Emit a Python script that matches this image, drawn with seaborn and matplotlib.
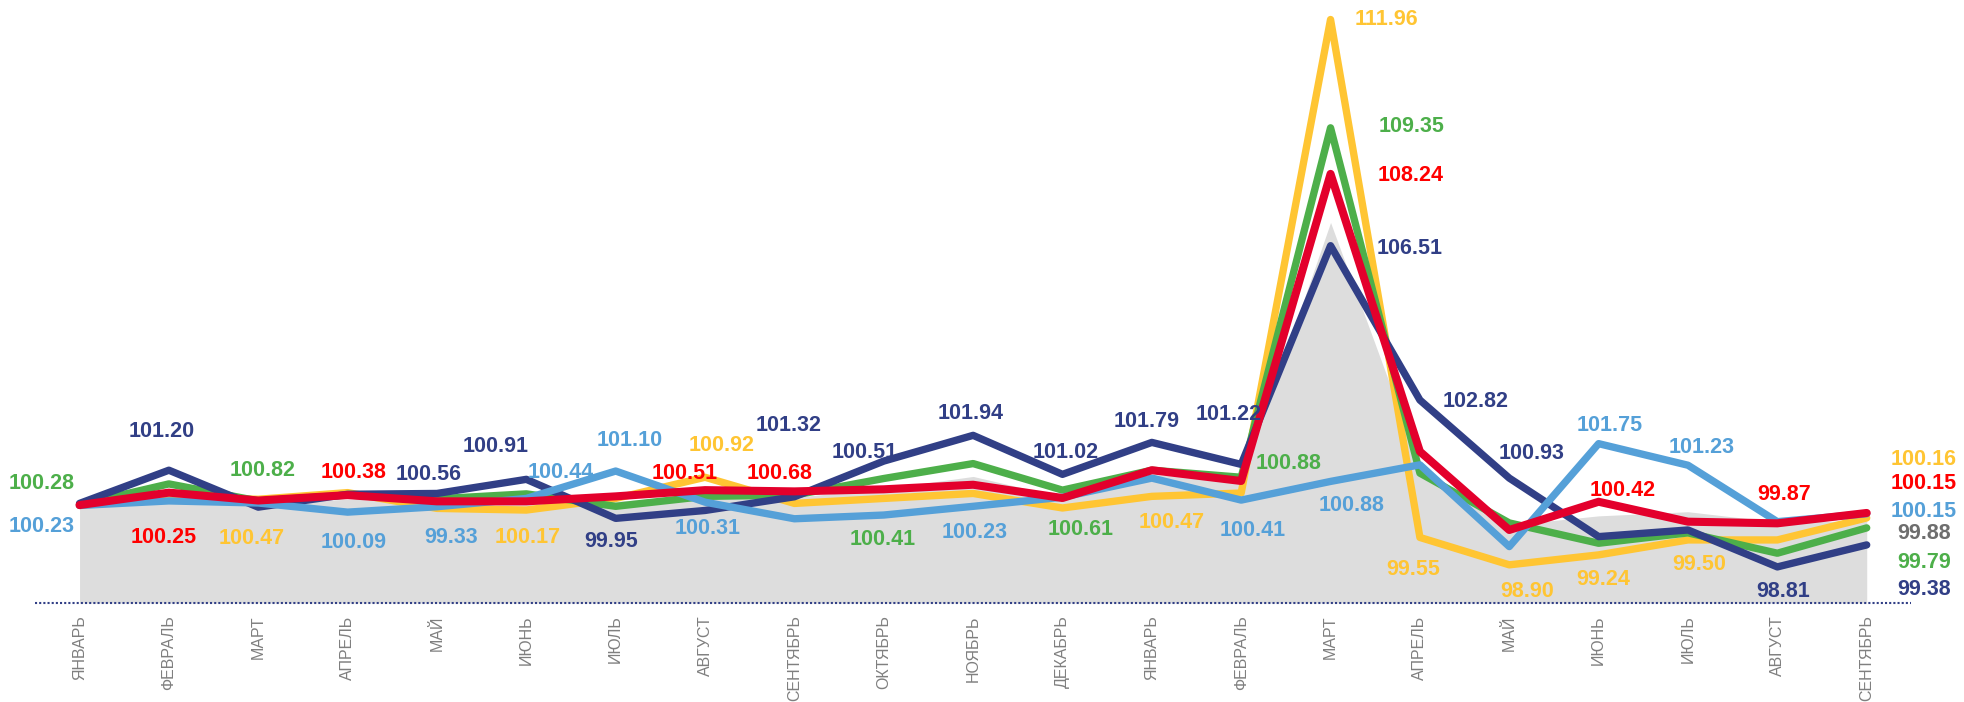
import pandas as pd
import matplotlib
matplotlib.use('Agg')
import matplotlib.pyplot as plt
import seaborn as sns

months = ['ЯНВАРЬ', 'ФЕВРАЛЬ', 'МАРТ', 'АПРЕЛЬ', 'МАЙ', 'ИЮНЬ', 'ИЮЛЬ', 'АВГУСТ',
          'СЕНТЯБРЬ', 'ОКТЯБРЬ', 'НОЯБРЬ', 'ДЕКАБРЬ', 'ЯНВАРЬ', 'ФЕВРАЛЬ', 'МАРТ',
          'АПРЕЛЬ', 'МАЙ', 'ИЮНЬ', 'ИЮЛЬ', 'АВГУСТ', 'СЕНТЯБРЬ']

# values
yellow = [100.25, 100.45, 100.40, 100.56, 100.18, 100.14, 100.42, 100.93, 100.30, 100.42, 100.54,
          100.19, 100.47, 100.55, 111.96, 99.48, 98.82, 99.06, 99.42, 99.42, 99.95]
green = [100.27, 100.77, 100.36, 100.50, 100.41, 100.53, 100.23, 100.47, 100.50, 100.90, 101.26,
         100.62, 101.10, 100.93, 109.35, 101.03, 99.83, 99.34, 99.59, 99.10, 99.71]
red = [100.26, 100.56, 100.37, 100.50, 100.35, 100.35, 100.47, 100.62, 100.59, 100.64, 100.75,
       100.43, 101.10, 100.84, 108.24, 101.55, 99.66, 100.34, 99.86, 99.82, 100.07]
navy = [100.30, 101.10, 100.21, 100.52, 100.54, 100.88, 99.94, 100.13, 100.46, 101.32, 101.94,
        101.00, 101.77, 101.24, 106.51, 102.79, 100.91, 99.50, 99.66, 98.77, 99.30]
blue = [100.25, 100.36, 100.31, 100.09, 100.22, 100.42, 101.08, 100.33, 99.93, 100.02, 100.23,
        100.45, 100.91, 100.38, 100.83, 101.23, 99.26, 101.74, 101.22, 99.86, 100.05]
gray = [100.20, 100.55, 100.30, 100.40, 100.35, 100.40, 100.35, 100.50, 100.45, 100.65, 100.95,
        100.45, 101.00, 100.85, 107.07, 101.20, 99.78, 100.00, 100.10, 99.85, 99.88]

# value labels: (series, month index, text)
labels = [
    ('green', 0, '100.28'), ('blue', 0, '100.23'), ('navy', 1, '101.20'), ('red', 1, '100.25'),
    ('green', 2, '100.82'), ('yellow', 2, '100.47'), ('red', 3, '100.38'), ('blue', 3, '100.09'),
    ('navy', 4, '100.56'), ('blue', 4, '99.33'), ('navy', 5, '100.91'), ('yellow', 5, '100.17'),
    ('blue', 5, '100.44'), ('navy', 6, '99.95'), ('blue', 6, '101.10'), ('yellow', 7, '100.92'),
    ('red', 7, '100.51'), ('blue', 7, '100.31'), ('navy', 8, '101.32'), ('red', 8, '100.68'),
    ('navy', 9, '100.51'), ('green', 9, '100.41'), ('navy', 10, '101.94'), ('blue', 10, '100.23'),
    ('navy', 11, '101.02'), ('green', 11, '100.61'), ('navy', 12, '101.79'), ('yellow', 12, '100.47'),
    ('navy', 13, '101.22'), ('blue', 13, '100.41'), ('green', 13, '100.88'), ('yellow', 14, '111.96'),
    ('green', 14, '109.35'), ('red', 14, '108.24'), ('navy', 14, '106.51'), ('blue', 14, '100.88'),
    ('navy', 15, '102.82'), ('yellow', 15, '99.55'), ('navy', 16, '100.93'), ('yellow', 16, '98.90'),
    ('blue', 17, '101.75'), ('red', 17, '100.42'), ('yellow', 17, '99.24'), ('blue', 18, '101.23'),
    ('yellow', 18, '99.50'), ('red', 19, '99.87'), ('navy', 19, '98.81'),
    ('yellow', 20, '100.16'), ('red', 20, '100.15'), ('blue', 20, '100.15'), ('gray', 20, '99.88'),
    ('green', 20, '99.79'), ('navy', 20, '99.38'),
]
# label offsets from their point, in points
offsets = [
    (-27, 15), (-27, -15), (-5, 28), (-4, -32), (3, 22), (-5, -28), (4, 16), (4, -22),
    (-6, 14), (10, -22), (-22, 24), (1, -20), (25, 19), (-3, -17), (10, 22), (12, 23),
    (-15, 12), (2, -19), (-4, 51), (-11, 13), (-14, 6), (-1, -44), (-2, 16), (1, -19),
    (2, 16), (13, -28), (-4, 15), (14, -19), (-9, 36), (8, -22), (34, 10), (40, 0),
    (58, 1), (58, -1), (57, -2), (15, -17), (40, -1), (-5, -23), (16, 18), (13, -19),
    (8, 13), (17, 8), (3, -18), (10, 13), (8, -18), (5, 21), (4, -18),
    (41, 42), (41, 21), (41, 2), (41, -9), (41, -25), (41, -32),
]

df = pd.DataFrame({'idx': range(len(months)), 'yellow': yellow, 'green': green, 'red': red,
                   'navy': navy, 'blue': blue, 'gray': gray})

line_colors = {'yellow': '#FFC533', 'green': '#4DAF4A', 'red': '#E3002C',
               'navy': '#313F86', 'blue': '#55A0D8'}
text_colors = {'yellow': '#FFC533', 'green': '#4DAF4A', 'red': '#FF0000',
               'navy': '#313F86', 'blue': '#55A0D8', 'gray': '#6E6E6E'}

sns.set_theme(style='white')
plt.rcParams['font.family'] = ['Liberation Sans', 'DejaVu Sans']

fig = plt.figure(figsize=(19.65, 7.02), dpi=100)
ax = fig.add_axes([0, 0.141, 1, 0.859])

base = 97.9
ax.fill_between(df['idx'], base, df['gray'], color='#DDDDDD', lw=0, zorder=1)

for name, lw in [('yellow', 5.3), ('green', 5.3), ('navy', 5.3), ('blue', 5.3), ('red', 5.8)]:
    sns.lineplot(data=df, x='idx', y=name, color=line_colors[name], lw=lw, ax=ax,
                 solid_capstyle='round', solid_joinstyle='round', zorder=3)

ax.hlines(base, -0.5, 20.5, color='#313F86', ls=(0, (1, 1)), lw=1.5, clip_on=False, zorder=2)

for (name, i, txt), (dx, dy) in zip(labels, offsets):
    ax.annotate(txt, xy=(i, df[name][i]), xytext=(dx, dy), textcoords='offset points',
                ha='center', va='center', color=text_colors[name], fontsize=15.5,
                fontweight='bold', annotation_clip=False, zorder=5)

ax.set_xlim(-0.89, 21.10)
ax.set_ylim(base, 112.43)
ax.set_xticks(range(len(months)))
ax.set_xticklabels(months, rotation=90, fontsize=11.5, color='#7F7F7F')
ax.tick_params(axis='x', length=0, pad=9)
ax.set_yticks([])
ax.set_xlabel('')
ax.set_ylabel('')
for s in ax.spines.values():
    s.set_visible(False)

fig.savefig('out.png', dpi=100)
